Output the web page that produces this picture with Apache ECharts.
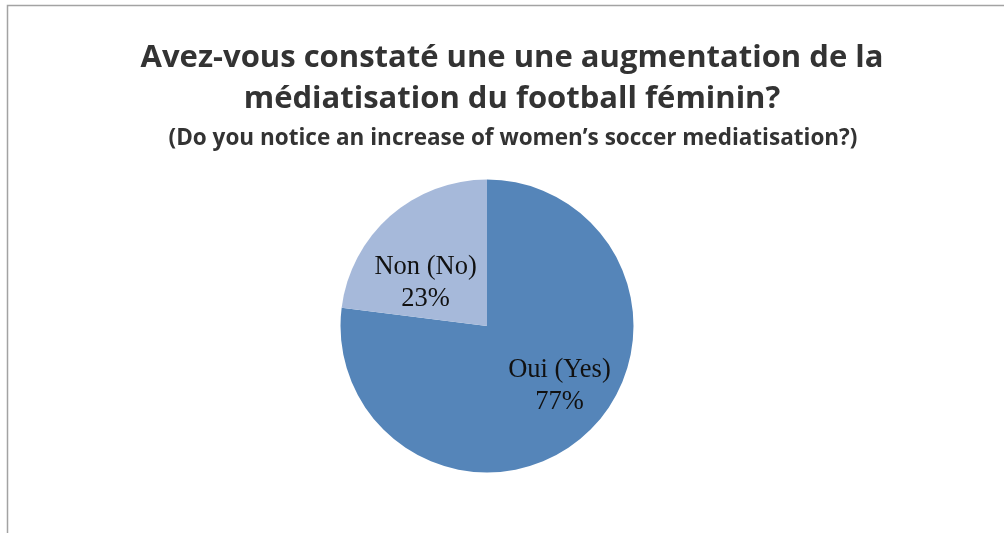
<!DOCTYPE html>
<html>
<head>
<meta charset="utf-8">
<style>
  html, body { margin: 0; padding: 0; background: #ffffff; }
  #chart { width: 1004px; height: 533px; }
</style>
<script src="https://cdn.jsdelivr.net/npm/echarts@6/dist/echarts.min.js"></script>
</head>
<body>
<div id="chart"></div>
<script>
// Survey answers (share of respondents, %)
const categories = ['Oui (Yes)', 'Non (No)'];
const shares = [77, 23];
const sliceColors = ['#5585b9', '#a6b9da'];

const titleLines = 'Avez-vous constaté une une augmentation de la\nmédiatisation du football féminin?';
const subtitleLine = '(Do you notice an increase of women\u2019s soccer mediatisation?)';

// per-slice label nudges, in pixels
const labelOffsets = [[22, 3], [-11, 14]];

const chart = echarts.init(document.getElementById('chart'), null, { renderer: 'canvas' });

chart.setOption({
  backgroundColor: '#ffffff',
  animation: false,
  title: [
    {
      text: titleLines,
      left: 512,
      textAlign: 'center',
      top: 38,
      padding: 0,
      textStyle: {
        fontFamily: 'Open Sans',
        fontWeight: 'bold',
        fontSize: 31,
        lineHeight: 41,
        color: '#333333'
      }
    },
    {
      text: subtitleLine,
      left: 513,
      textAlign: 'center',
      top: 126,
      padding: 0,
      textStyle: {
        fontFamily: 'Open Sans',
        fontWeight: 'bold',
        fontSize: 22.5,
        lineHeight: 26,
        color: '#333333'
      }
    }
  ],
  graphic: [
    {
      type: 'rect',
      silent: true,
      shape: { x: 7.5, y: 5.5, width: 1100, height: 600 },
      style: { fill: 'none', stroke: '#a3a3a3', lineWidth: 1.5 }
    }
  ],
  series: [
    {
      type: 'pie',
      center: [487, 326],
      radius: 146.5,
      startAngle: 90,
      clockwise: true,
      silent: true,
      itemStyle: { borderWidth: 0 },
      label: {
        show: true,
        position: 'inside',
        formatter: '{b}\n{c}%',
        fontFamily: 'Liberation Serif',
        fontSize: 26.5,
        lineHeight: 32,
        color: '#111111'
      },
      labelLine: { show: false },
      data: categories.map((name, i) => ({
        name: name,
        value: shares[i],
        itemStyle: { color: sliceColors[i] },
        label: { offset: labelOffsets[i] }
      }))
    }
  ]
});
</script>
</body>
</html>
